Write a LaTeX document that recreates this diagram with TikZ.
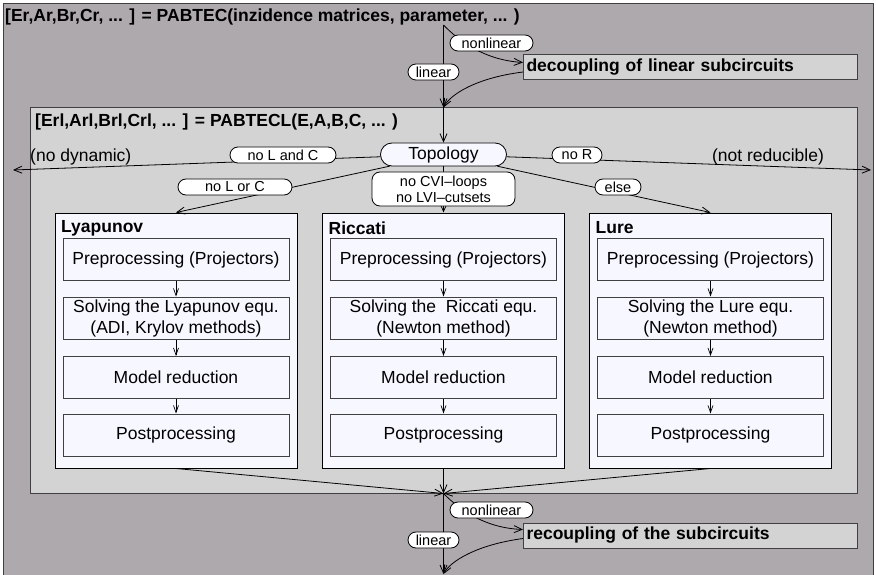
\documentclass[tikz,border=0pt]{standalone}
\usepackage{fontspec}
\setmainfont{Liberation Sans}
\usetikzlibrary{
    arrows.meta,
    shapes.misc,
    calc,
    positioning
}

\definecolor{outerbg}{HTML}{AEA9AD}
\definecolor{innerbg}{HTML}{D3D3D3}
\definecolor{methodbg}{HTML}{F7F7FF}
\definecolor{framegray}{HTML}{404040}

\tikzset{
    bigfont/.style={font=\fontsize{17.5}{21}\selectfont},
    boldfont/.style={font=\fontsize{17.5}{21}\selectfont\bfseries},
    smallfont/.style={font=\fontsize{14.5}{16}\selectfont},
    flow/.style={draw=black, line width=0.8pt, -{Straight Barb[length=8pt,width=7pt]}},
    stepflow/.style={draw=black, line width=0.7pt, -{Straight Barb[length=7pt,width=5pt]}},
    pill/.style={rounded rectangle, draw=black, fill=white, line width=0.8pt, smallfont,
        minimum height=16pt, inner ysep=0pt, inner xsep=2pt},
    phasebox/.style={draw=framegray, fill=innerbg, line width=1pt, boldfont, anchor=west,
        minimum height=25pt, inner xsep=3pt, inner ysep=0pt, text width=328pt, align=left},
    methodbox/.style={draw=black, fill=methodbg, line width=1pt,
        minimum width=242pt, minimum height=255pt, inner sep=0pt},
    stepbox/.style={draw=framegray, fill=methodbg, line width=1pt, bigfont, align=center,
        minimum width=226pt, minimum height=42pt, inner sep=0pt}
}

\begin{document}
\begin{tikzpicture}[x=1pt, y=-1pt]
    \useasboundingbox (0,0) rectangle (876,575);
    \clip (0,0) rectangle (876,575);

    % outer frame and the linear part
    \node[draw=framegray, fill=outerbg, line width=1pt, minimum width=870pt, minimum height=576pt, inner sep=0pt] (pabtec) at (438,292) {};
    \node[boldfont, anchor=west, inner sep=1pt] (pabtectitle) at (4,17) {[Er,Ar,Br,Cr, ... ] = PABTEC(inzidence matrices, parameter, ... )};
    \node[phasebox] (decouple) at (523,67.5) {decoupling of linear subcircuits};
    \node[phasebox] (recouple) at (523,535.5) {recoupling of the subcircuits};
    \node[draw=framegray, fill=innerbg, line width=1pt, minimum width=827pt, minimum height=385pt, inner sep=0pt] (lin) at (443.5,300.5) {};
    \node[boldfont, anchor=west, inner sep=1pt] (lintitle) at (34,122) {[Erl,Arl,Brl,Crl, ... ] = PABTECL(E,A,B,C, ... )};

    \node[rounded rectangle, draw=black, fill=methodbg, line width=0.8pt, bigfont, minimum width=126pt, minimum height=23pt, inner sep=0pt] (topo) at (443.5,154.5) {Topology};
    \node[bigfont, anchor=west, inner sep=0pt] (nodyntext) at (30,157) {(no dynamic)};
    \node[bigfont, inner sep=0pt] (notredtext) at (768,157) {(not reducible)};

    % three methods
    \begin{scope}[shift={(176,0)}]
        \node[methodbox] (lyap) at (0,340.5) {};
        \node[boldfont, anchor=west, inner sep=0pt] (lyaptitle) at (-115,228) {Lyapunov};
        \node[stepbox] (lyappre) at (0,259.5) {Preprocessing (Projectors)};
        \node[stepbox] (lyapsol) at (0,318) {Solving the Lyapunov equ.\\(ADI, Krylov methods)};
        \node[stepbox] (lyapred) at (0,377.5) {Model reduction};
        \node[stepbox] (lyappost) at (0,435) {Postprocessing};
        \draw[stepflow] (lyappre) -- (lyapsol);
        \draw[stepflow] (lyapsol) -- (lyapred);
        \draw[stepflow] (lyapred) -- (lyappost);
    \end{scope}
    \begin{scope}[shift={(443.5,0)}]
        \node[methodbox] (ricc) at (0,340.5) {};
        \node[boldfont, anchor=west, inner sep=0pt] (ricctitle) at (-115,228) {Riccati};
        \node[stepbox] (riccpre) at (0,259.5) {Preprocessing (Projectors)};
        \node[stepbox] (riccsol) at (0,318) {Solving the\ \ Riccati equ.\\(Newton method)};
        \node[stepbox] (riccred) at (0,377.5) {Model reduction};
        \node[stepbox] (riccpost) at (0,435) {Postprocessing};
        \draw[stepflow] (riccpre) -- (riccsol);
        \draw[stepflow] (riccsol) -- (riccred);
        \draw[stepflow] (riccred) -- (riccpost);
    \end{scope}
    \begin{scope}[shift={(710.5,0)}]
        \node[methodbox] (lure) at (0,340.5) {};
        \node[boldfont, anchor=west, inner sep=0pt] (luretitle) at (-115,228) {Lure};
        \node[stepbox] (lurepre) at (0,259.5) {Preprocessing (Projectors)};
        \node[stepbox] (luresol) at (0,318) {Solving the Lure equ.\\(Newton method)};
        \node[stepbox] (lurered) at (0,377.5) {Model reduction};
        \node[stepbox] (lurepost) at (0,435) {Postprocessing};
        \draw[stepflow] (lurepre) -- (luresol);
        \draw[stepflow] (luresol) -- (lurered);
        \draw[stepflow] (lurered) -- (lurepost);
    \end{scope}

    % connectors, labels on top of them
    \coordinate (entry) at (443.5,25);
    \coordinate (exit) at (443.5,574);
    \coordinate (nodynend) at (13,170);
    \coordinate (notredend) at (871,170);

    \draw[flow] (entry) -- (lin.north) node[pill, minimum width=55pt] (linear1) at (433.5,72) {linear};
    \draw[flow] (entry) .. controls (460,42) and (485,60) .. ($(decouple.west)+(0,-5)$) node[pill, minimum width=87pt] (nonlinear1) at (491.5,43) {nonlinear};
    \draw[flow] ($(decouple.west)+(0,4.5)$) .. controls (475,78) and (450,95) .. (lin.north);
    \draw[flow] (lin.north) -- (topo);

    \draw[flow] (topo) -- (nodynend) node[pill, minimum width=110pt] (nolandc) at (283,155) {no L and C};
    \draw[flow] (topo) -- (notredend) node[pill, minimum width=54pt] (nor) at (577,155) {no R};
    \draw[flow] (topo) -- (lyap.north) node[pill, minimum width=118pt] (nolorc) at (235,187) {no L or C};
    \draw[flow] (topo) -- (ricc.north) node[draw=black, fill=white, line width=0.8pt, rounded corners=8pt, smallfont, align=center, minimum width=143pt, minimum height=34pt, inner sep=0pt] (noloops) at (443.5,189) {no CVI--loops\\no LVI--cutsets};
    \draw[flow] (topo) -- (lure.north) node[pill, minimum width=50pt] (elsecase) at (618,187) {else};

    \draw[flow] (lyap.south) -- (lin.south);
    \draw[flow] (ricc.south) -- (lin.south);
    \draw[flow] (lure.south) -- (lin.south);

    \draw[flow] (lin.south) -- (exit) node[pill, minimum width=55pt] (linear2) at (433.5,540) {linear};
    \draw[flow] (lin.south) .. controls (460,510) and (485,528) .. ($(recouple.west)+(0,-6)$) node[pill, minimum width=87pt] (nonlinear2) at (491.5,510) {nonlinear};
    \draw[flow] ($(recouple.west)+(0,3)$) .. controls (475,545) and (450,562) .. (exit);
\end{tikzpicture}
\end{document}
